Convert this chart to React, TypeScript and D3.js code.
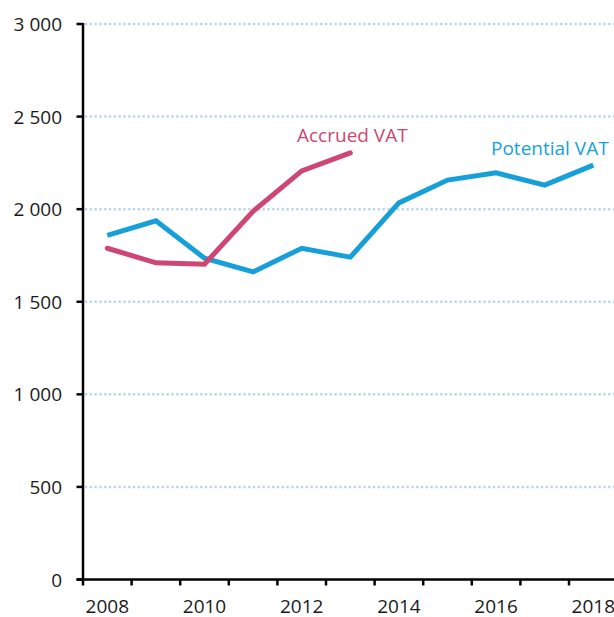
import React from "react";
import * as d3 from "d3";

const years = [2008, 2009, 2010, 2011, 2012, 2013, 2014, 2015, 2016, 2017, 2018];
const potentialVAT = [1859, 1937, 1735, 1661, 1789, 1741, 2034, 2157, 2196, 2130, 2238];
const accruedYears = [2008, 2009, 2010, 2011, 2012, 2013];
const accruedVAT = [1789, 1710, 1703, 1989, 2207, 2304];
const yTicks = [0, 500, 1000, 1500, 2000, 2500, 3000];
const xLabelYears = [2008, 2010, 2012, 2014, 2016, 2018];

const W = 614;
const H = 617;
const BLUE = "#179fd9";
const PINK = "#cf4673";
const FONT = "'Open Sans', sans-serif";

export default function App() {
  const left = 83;
  const step = 48.6;
  const x = d3
    .scaleBand<number>()
    .domain(years)
    .range([left, left + step * years.length])
    .paddingInner(0)
    .paddingOuter(0);
  const y = d3.scaleLinear().domain([0, 3000]).range([579.5, 24]);
  const cx = (yr: number) => (x(yr) as number) + x.bandwidth() / 2;

  const line = d3
    .line<[number, number]>()
    .x((d) => cx(d[0]))
    .y((d) => y(d[1]));

  const potPath = line(years.map((yr, i) => [yr, potentialVAT[i]]));
  const accPath = line(accruedYears.map((yr, i) => [yr, accruedVAT[i]]));

  const boundaries = years.map((yr) => x(yr) as number).concat([left + step * years.length]);

  return (
    <svg
      width={W}
      height={H}
      style={{ position: "absolute", left: 0, top: 0, background: "#fff" }}
      fontFamily={FONT}
    >
      {/* gridlines */}
      {yTicks
        .filter((t) => t > 0)
        .map((t) => (
          <line
            key={"g" + t}
            x1={left + 2}
            x2={W}
            y1={y(t)}
            y2={y(t)}
            stroke="#b5d6e3"
            strokeWidth={2.5}
            strokeDasharray="2.2 2.6"
          />
        ))}
      {/* y axis */}
      <line x1={left} x2={left} y1={y(3000) - 1} y2={y(0)} stroke="#000" strokeWidth={2.5} />
      {yTicks.map((t) => (
        <g key={"yt" + t}>
          <line x1={left - 6.5} x2={left} y1={y(t)} y2={y(t)} stroke="#000" strokeWidth={2.5} />
          <text
            x={62}
            y={y(t) + 7}
            textAnchor="end"
            fontSize={19}
            fill="#1a1a1a"
          >
            {d3.format(",")(t).replace(/,/g, " ")}
          </text>
        </g>
      ))}
      {/* x axis */}
      <line x1={left - 6.5} x2={W} y1={y(0)} y2={y(0)} stroke="#000" strokeWidth={2.5} />
      {boundaries.map((b, i) => (
        <line key={"xt" + i} x1={b} x2={b} y1={y(0)} y2={y(0) + 6} stroke="#000" strokeWidth={2.5} />
      ))}
      {xLabelYears.map((yr) => (
        <text key={"xl" + yr} x={cx(yr)} y={612.5} textAnchor="middle" fontSize={19} fill="#1a1a1a">
          {yr}
        </text>
      ))}
      {/* lines */}
      <path d={potPath || ""} fill="none" stroke={BLUE} strokeWidth={5} strokeLinejoin="miter" />
      <path d={accPath || ""} fill="none" stroke={PINK} strokeWidth={5} strokeLinejoin="miter" strokeLinecap="round" />
      {/* labels */}
      <text x={297} y={142} fontSize={19} fill={PINK}>
        Accrued VAT
      </text>
      <text x={491} y={155} fontSize={19} fill={BLUE}>
        Potential VAT
      </text>
    </svg>
  );
}
